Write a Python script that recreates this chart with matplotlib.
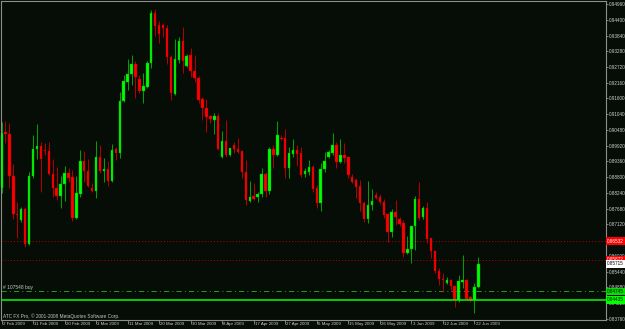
import numpy as np
import matplotlib
matplotlib.use('Agg')
import matplotlib.pyplot as plt
from matplotlib.transforms import blended_transform_factory

plt.rcParams['font.family'] = ['Liberation Sans', 'DejaVu Sans']

# daily OHLC, 2 Feb 2009 .. 23 Jun 2009 (one bar per trading day, Sun-Fri)
opens = [0.88428, 0.90398, 0.90338, 0.88844, 0.87482, 0.87280, 0.87671, 0.86426, 0.88844, 0.89794,
         0.89911, 0.89780, 0.89733, 0.88916, 0.88428, 0.88133, 0.88560, 0.88962, 0.88820, 0.87340,
         0.88204, 0.89378, 0.89022, 0.88407, 0.88322, 0.89531, 0.89022, 0.89093, 0.88667, 0.89804,
         0.89652, 0.91511, 0.92197, 0.92471, 0.92827, 0.92293, 0.91877, 0.92019, 0.92852, 0.94651,
         0.94213, 0.94203, 0.94117, 0.93086, 0.91760, 0.92969, 0.93644, 0.92766, 0.93147, 0.92588,
         0.92339, 0.91571, 0.91251, 0.90988, 0.90836, 0.90988, 0.89531, 0.90100, 0.89591, 0.89947,
         0.89804, 0.89733, 0.88997, 0.87966, 0.88133, 0.88108, 0.88194, 0.88916, 0.88322, 0.89794,
         0.89591, 0.90185, 0.90185, 0.89118, 0.89627, 0.89769, 0.89673, 0.88916, 0.88997, 0.89175,
         0.88407, 0.87874, 0.89082, 0.89509, 0.89652, 0.89947, 0.89353, 0.89591, 0.89509, 0.88820,
         0.88702, 0.88489, 0.87874, 0.87305, 0.87813, 0.88169, 0.88087, 0.87931, 0.87482, 0.86843,
         0.87575, 0.87305, 0.87184, 0.86096, 0.86238, 0.87077, 0.88016, 0.87397, 0.87717, 0.86629,
         0.86178, 0.85466, 0.85171, 0.85050, 0.85146, 0.84933, 0.84435, 0.85086, 0.85146, 0.84531,
         0.84435, 0.84898]
highs = [0.90775, 0.90811, 0.90718, 0.89271, 0.87931, 0.87731, 0.87731, 0.88997, 0.90302, 0.90693,
         0.90064, 0.90007, 0.90064, 0.89438, 0.89175, 0.88844, 0.89200, 0.89118, 0.89058, 0.88844,
         0.89769, 0.89733, 0.89438, 0.88585, 0.90089, 0.89947, 0.89495, 0.89378, 0.89972, 0.89875,
         0.91842, 0.92436, 0.92994, 0.93147, 0.92933, 0.92436, 0.92496, 0.92944, 0.94747, 0.94772,
         0.94366, 0.94274, 0.94213, 0.93147, 0.93705, 0.93776, 0.94131, 0.93171, 0.93385, 0.93147,
         0.92400, 0.91664, 0.91571, 0.91013, 0.91074, 0.91074, 0.90444, 0.90836, 0.89850, 0.90064,
         0.90185, 0.89769, 0.89413, 0.88667, 0.88585, 0.88286, 0.89118, 0.88997, 0.89886, 0.89947,
         0.90800, 0.90302, 0.90516, 0.89886, 0.90160, 0.89947, 0.89886, 0.89118, 0.89413, 0.89236,
         0.88524, 0.89296, 0.89708, 0.89769, 0.90363, 0.90064, 0.90149, 0.90028, 0.89555, 0.88916,
         0.88773, 0.88702, 0.87955, 0.88667, 0.88372, 0.88276, 0.88204, 0.88016, 0.87539, 0.87660,
         0.87991, 0.87387, 0.87280, 0.86711, 0.87077, 0.88144, 0.88642, 0.87778, 0.87931, 0.86650,
         0.86213, 0.85562, 0.85385, 0.85253, 0.85182, 0.84958, 0.85324, 0.86035, 0.85193, 0.84560,
         0.85029, 0.85954]
lows = [0.88229, 0.90007, 0.88407, 0.87305, 0.86629, 0.87219, 0.86331, 0.86391, 0.88763, 0.89438,
        0.88286, 0.89591, 0.88880, 0.88108, 0.87991, 0.87696, 0.87966, 0.88642, 0.87255, 0.87305,
        0.88108, 0.88642, 0.88443, 0.88286, 0.88051, 0.88962, 0.88642, 0.88489, 0.88642, 0.89413,
        0.89474, 0.91465, 0.91902, 0.92080, 0.91628, 0.91806, 0.91429, 0.91984, 0.92674, 0.93833,
        0.93584, 0.93776, 0.92827, 0.91547, 0.91724, 0.92873, 0.92496, 0.92731, 0.92375, 0.92197,
        0.91451, 0.90836, 0.90398, 0.90718, 0.90327, 0.89769, 0.89500, 0.89531, 0.89555, 0.89673,
        0.89652, 0.88763, 0.87813, 0.87931, 0.87991, 0.87931, 0.88108, 0.88108, 0.88204, 0.89118,
        0.89555, 0.90124, 0.88763, 0.88784, 0.89531, 0.89200, 0.88820, 0.88820, 0.88880, 0.88286,
        0.87696, 0.87611, 0.88997, 0.89474, 0.89591, 0.89118, 0.89296, 0.89317, 0.88763, 0.88585,
        0.88051, 0.87611, 0.87209, 0.87184, 0.87635, 0.88027, 0.87849, 0.87340, 0.86508, 0.86686,
        0.87102, 0.87067, 0.85975, 0.86071, 0.85740, 0.86213, 0.87280, 0.87305, 0.86451, 0.85918,
        0.85406, 0.84969, 0.84730, 0.85004, 0.84791, 0.84197, 0.84375, 0.84851, 0.84435, 0.84364,
        0.83984, 0.84851]
closes = [0.90363, 0.90327, 0.88844, 0.87493, 0.87468, 0.87671, 0.86426, 0.88844, 0.89794, 0.89911,
          0.89449, 0.89723, 0.88916, 0.88428, 0.88133, 0.88560, 0.88962, 0.88773, 0.87340, 0.88251,
          0.89378, 0.89022, 0.88489, 0.88322, 0.89531, 0.89022, 0.89093, 0.88667, 0.89780, 0.89652,
          0.91511, 0.92222, 0.92460, 0.92827, 0.92354, 0.91877, 0.92055, 0.92873, 0.94651, 0.94178,
          0.93883, 0.94107, 0.93086, 0.91785, 0.92994, 0.93644, 0.92933, 0.93122, 0.92578, 0.92318,
          0.91547, 0.91273, 0.90953, 0.90871, 0.90988, 0.89804, 0.90089, 0.89580, 0.89829, 0.89804,
          0.89708, 0.88997, 0.87991, 0.88108, 0.88027, 0.88204, 0.88916, 0.88322, 0.89794, 0.89591,
          0.90302, 0.90160, 0.89118, 0.89652, 0.89769, 0.89627, 0.88880, 0.89022, 0.89175, 0.88372,
          0.87874, 0.89093, 0.89378, 0.89708, 0.89947, 0.89353, 0.89591, 0.89474, 0.88880, 0.88642,
          0.88464, 0.87874, 0.87305, 0.87813, 0.87966, 0.88073, 0.87931, 0.87457, 0.86843, 0.87575,
          0.87376, 0.87138, 0.86096, 0.86249, 0.87077, 0.88027, 0.87340, 0.87717, 0.86604, 0.86188,
          0.85466, 0.85171, 0.85146, 0.85146, 0.84933, 0.84435, 0.85111, 0.85146, 0.84471, 0.84435,
          0.84908, 0.85715]

date_labels = ['2 Feb 2009', '11 Feb 2009', '20 Feb 2009', '3 Mar 2009', '11 Mar 2009',
               '20 Mar 2009', '30 Mar 2009', '8 Apr 2009', '17 Apr 2009', '27 Apr 2009',
               '6 May 2009', '15 May 2009', '26 May 2009', '3 Jun 2009', '12 Jun 2009',
               '22 Jun 2009']
price_ticks = [0.83760, 0.84320, 0.84880, 0.85440, 0.86000, 0.86560, 0.87120, 0.87680,
               0.88240, 0.88800, 0.89360, 0.89920, 0.90480, 0.91040, 0.91600, 0.92160,
               0.92720, 0.93280, 0.93840, 0.94400, 0.94960]

sell_levels = [0.86532, 0.85872]   # red dotted levels
order_price = 0.84745              # "#107548 buy"
stop_line = 0.84435                # solid green line
bid = closes[-1]

BG = '#060c06'
TXT = '#d0d0d0'
FRAME = '#8e8e8e'

o = np.array(opens)
h = np.array(highs)
l = np.array(lows)
c = np.array(closes)
x = np.arange(len(o))
up = c >= o

fig = plt.figure(figsize=(6.25, 3.29), dpi=100, facecolor=BG)
ax = fig.add_axes([1 / 625, 9 / 329, 605 / 625, 319 / 329], facecolor=BG)

wick_col = np.where(up, '#00a000', '#b00000')
body_col = np.where(up, '#00ff00', '#ff0000')
ax.vlines(x, l, h, colors=wick_col, linewidth=0.75, zorder=2)
ax.bar(x, np.maximum(np.abs(c - o), 0.00012), bottom=np.minimum(o, c), width=0.62,
       color=body_col, edgecolor=wick_col, linewidth=0.3, zorder=3)

for lvl in sell_levels:
    ax.axhline(lvl, color='#b00000', linestyle=(0, (1, 2)), linewidth=0.75, zorder=1)
ax.axhline(order_price, color='#1e9a1e', linestyle=(0, (5, 3, 1, 3)), linewidth=0.75, zorder=1)
ax.axhline(stop_line, color='#00ff00', linewidth=1.1, zorder=4)

ax.set_xlim(-0.13, 153.4)
ax.set_ylim(0.83723, 0.95067)

for sp in ax.spines.values():
    sp.set_color(FRAME)
    sp.set_linewidth(0.8)

ax.yaxis.tick_right()
ax.set_yticks(price_ticks)
ax.set_yticklabels(['%.5f' % v for v in price_ticks])
ax.tick_params(axis='y', length=1.5, width=0.6, color=FRAME, pad=0.5,
               labelsize=3.3, labelcolor=TXT)

date_idx = list(range(0, len(date_labels) * 8, 8))
ax.set_xticks(date_idx)
ax.set_xticklabels([])
ax.tick_params(axis='x', length=3.2, width=0.6, color=FRAME, direction='out')

bx = blended_transform_factory(ax.transData, ax.transAxes)
for i, lab in zip(date_idx, date_labels):
    ax.text(i + 0.3, -0.011, lab, transform=bx, fontsize=3.2, color=TXT,
            ha='left', va='center', clip_on=False)

by = blended_transform_factory(ax.transAxes, ax.transData)
ax.text(0.004, order_price + 0.0003, '# 107548 buy', transform=by, fontsize=3.5,
        color='#c8c8c8', ha='left', va='bottom')
ax.text(0.004, 0.0125, 'ATC FX Pro, \u00a9 2001-2008 MetaQuotes Software Corp.',
        transform=ax.transAxes, fontsize=3.4, color='#c8c8c8', ha='left', va='center')

# price tags on the right scale (they sit over the regular scale labels)
tags = [(sell_levels[0], '#ff0000', 'white'), (sell_levels[1], '#ff0000', 'white'),
        (bid, '#ffffff', 'black'), (order_price, '#00e000', 'black'),
        (stop_line, '#00ff00', 'black')]
for val, fc, tc in tags:
    ax.text(1.002, val, '%.5f' % val, transform=by, fontsize=3.3, color=tc,
            ha='left', va='center', clip_on=False, zorder=6,
            bbox=dict(boxstyle='square,pad=0.25', fc=fc, ec='none'))

fig.savefig('out.png', dpi=100, facecolor=BG)
